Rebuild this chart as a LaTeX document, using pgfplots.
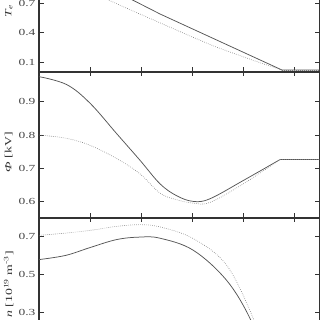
\documentclass[border=0pt]{standalone}
\usepackage{fontspec}
\setmainfont{Liberation Serif}
\usepackage{graphicx}
\usepackage{pgfplots}
\pgfplotsset{compat=1.18}
\definecolor{axgray}{HTML}{333333}
\definecolor{solidc}{HTML}{555555}
\definecolor{dotc}{HTML}{777777}
\pgfplotsset{
 panel/.style={
  scale only axis, width=280.5pt, xmin=0, xmax=5.5, xtick={0,1,2,3,4,5}, xticklabels={},
  axis line style={axgray, line width=1.1pt},
  tick style={axgray, line width=0.9pt}, major tick length=4.5pt,
  /pgf/number format/assume math mode=true,
  /pgf/number format/fixed, /pgf/number format/precision=1, /pgf/number format/fixed zerofill,
  yticklabel={\scalebox{1.45}[1]{\pgfmathprintnumber{\tick}}},
  tick label style={font=\fontsize{9.3}{10}\selectfont, color=axgray!90},
  ylabel style={at={(axis description cs:-0.108,0.5)}, anchor=center, font=\fontsize{9.5}{11}\selectfont, color=axgray},
 },
 sol/.style={solidc, line width=0.75pt},
 dot/.style={dotc, line width=0.6pt, dash pattern=on 0.6pt off 1.4pt},
}
\begin{document}
\begin{tikzpicture}
\path[use as bounding box, clip] (0,0) rectangle (320pt,320pt);
% Te panel
\begin{axis}[panel, at={(39pt,248pt)}, anchor=south west, height=157.3pt,
  ymin=0, ymax=1.6, ytick={0.1,0.4,0.7,1.0,1.3,1.6},
  ylabel={\scalebox{1.45}[1]{\textit{T}\textsubscript{\textit{e}} [keV]}}]
\addplot[sol] coordinates {(0,1.20) (1.824,0.735) (2.373,0.59) (4.765,0.02) (5.5,0.02)};
\addplot[dot, smooth, tension=0.4] coordinates {(0,1.08) (1.353,0.735) (2.373,0.50) (3.4,0.27) (4.275,0.105) (4.765,0.02)};
\addplot[dot] coordinates {(4.765,0.02) (5.5,0.02)};
\end{axis}
% Phi panel
\begin{axis}[panel, at={(39pt,102pt)}, anchor=south west, height=146pt,
  ymin=0.55, ymax=0.99, ytick={0.6,0.7,0.8,0.9},
  ylabel style={at={(axis description cs:-0.108,0.45)}},
  ylabel={\scalebox{1.45}[1]{\textit{Φ} [kV]}}]
\addplot[sol, smooth, tension=0.6] coordinates {(0,0.976) (0.543,0.952) (1.0,0.896) (1.524,0.804) (1.980,0.724) (2.373,0.653) (2.700,0.617) (3.025,0.600) (3.353,0.608) (4.006,0.663) (4.725,0.726)};
\addplot[sol] coordinates {(4.725,0.726) (5.5,0.726)};
\addplot[dot, smooth, tension=0.6] coordinates {(0,0.800) (0.543,0.790) (1.0,0.769) (1.524,0.729) (1.980,0.683) (2.373,0.625) (2.700,0.605) (3.025,0.595) (3.353,0.597) (4.006,0.653) (4.725,0.726)};
\addplot[dot] coordinates {(4.725,0.726) (5.5,0.726)};
\end{axis}
% n panel
\begin{axis}[panel, at={(39pt,102pt)}, anchor=north west, height=132.8pt,
  ymin=0.1, ymax=0.796, ytick={0.1,0.3,0.5,0.7},
  ylabel={\scalebox{1.45}[1]{\textit{n} [10\textsuperscript{19} m\textsuperscript{-3}]}}]
\addplot[sol, smooth, tension=0.6] coordinates {(0,0.578) (0.523,0.600) (1.0,0.641) (1.524,0.683) (1.980,0.696) (2.373,0.690) (3.025,0.627) (3.680,0.469) (4.137,0.27) (4.35,0.10)};
\addplot[dot, smooth, tension=0.6] coordinates {(0,0.705) (0.523,0.717) (1.0,0.731) (1.524,0.752) (1.980,0.761) (2.373,0.749) (3.025,0.688) (3.680,0.548) (4.203,0.269) (4.40,0.10)};
\end{axis}
\end{tikzpicture}
\end{document}
